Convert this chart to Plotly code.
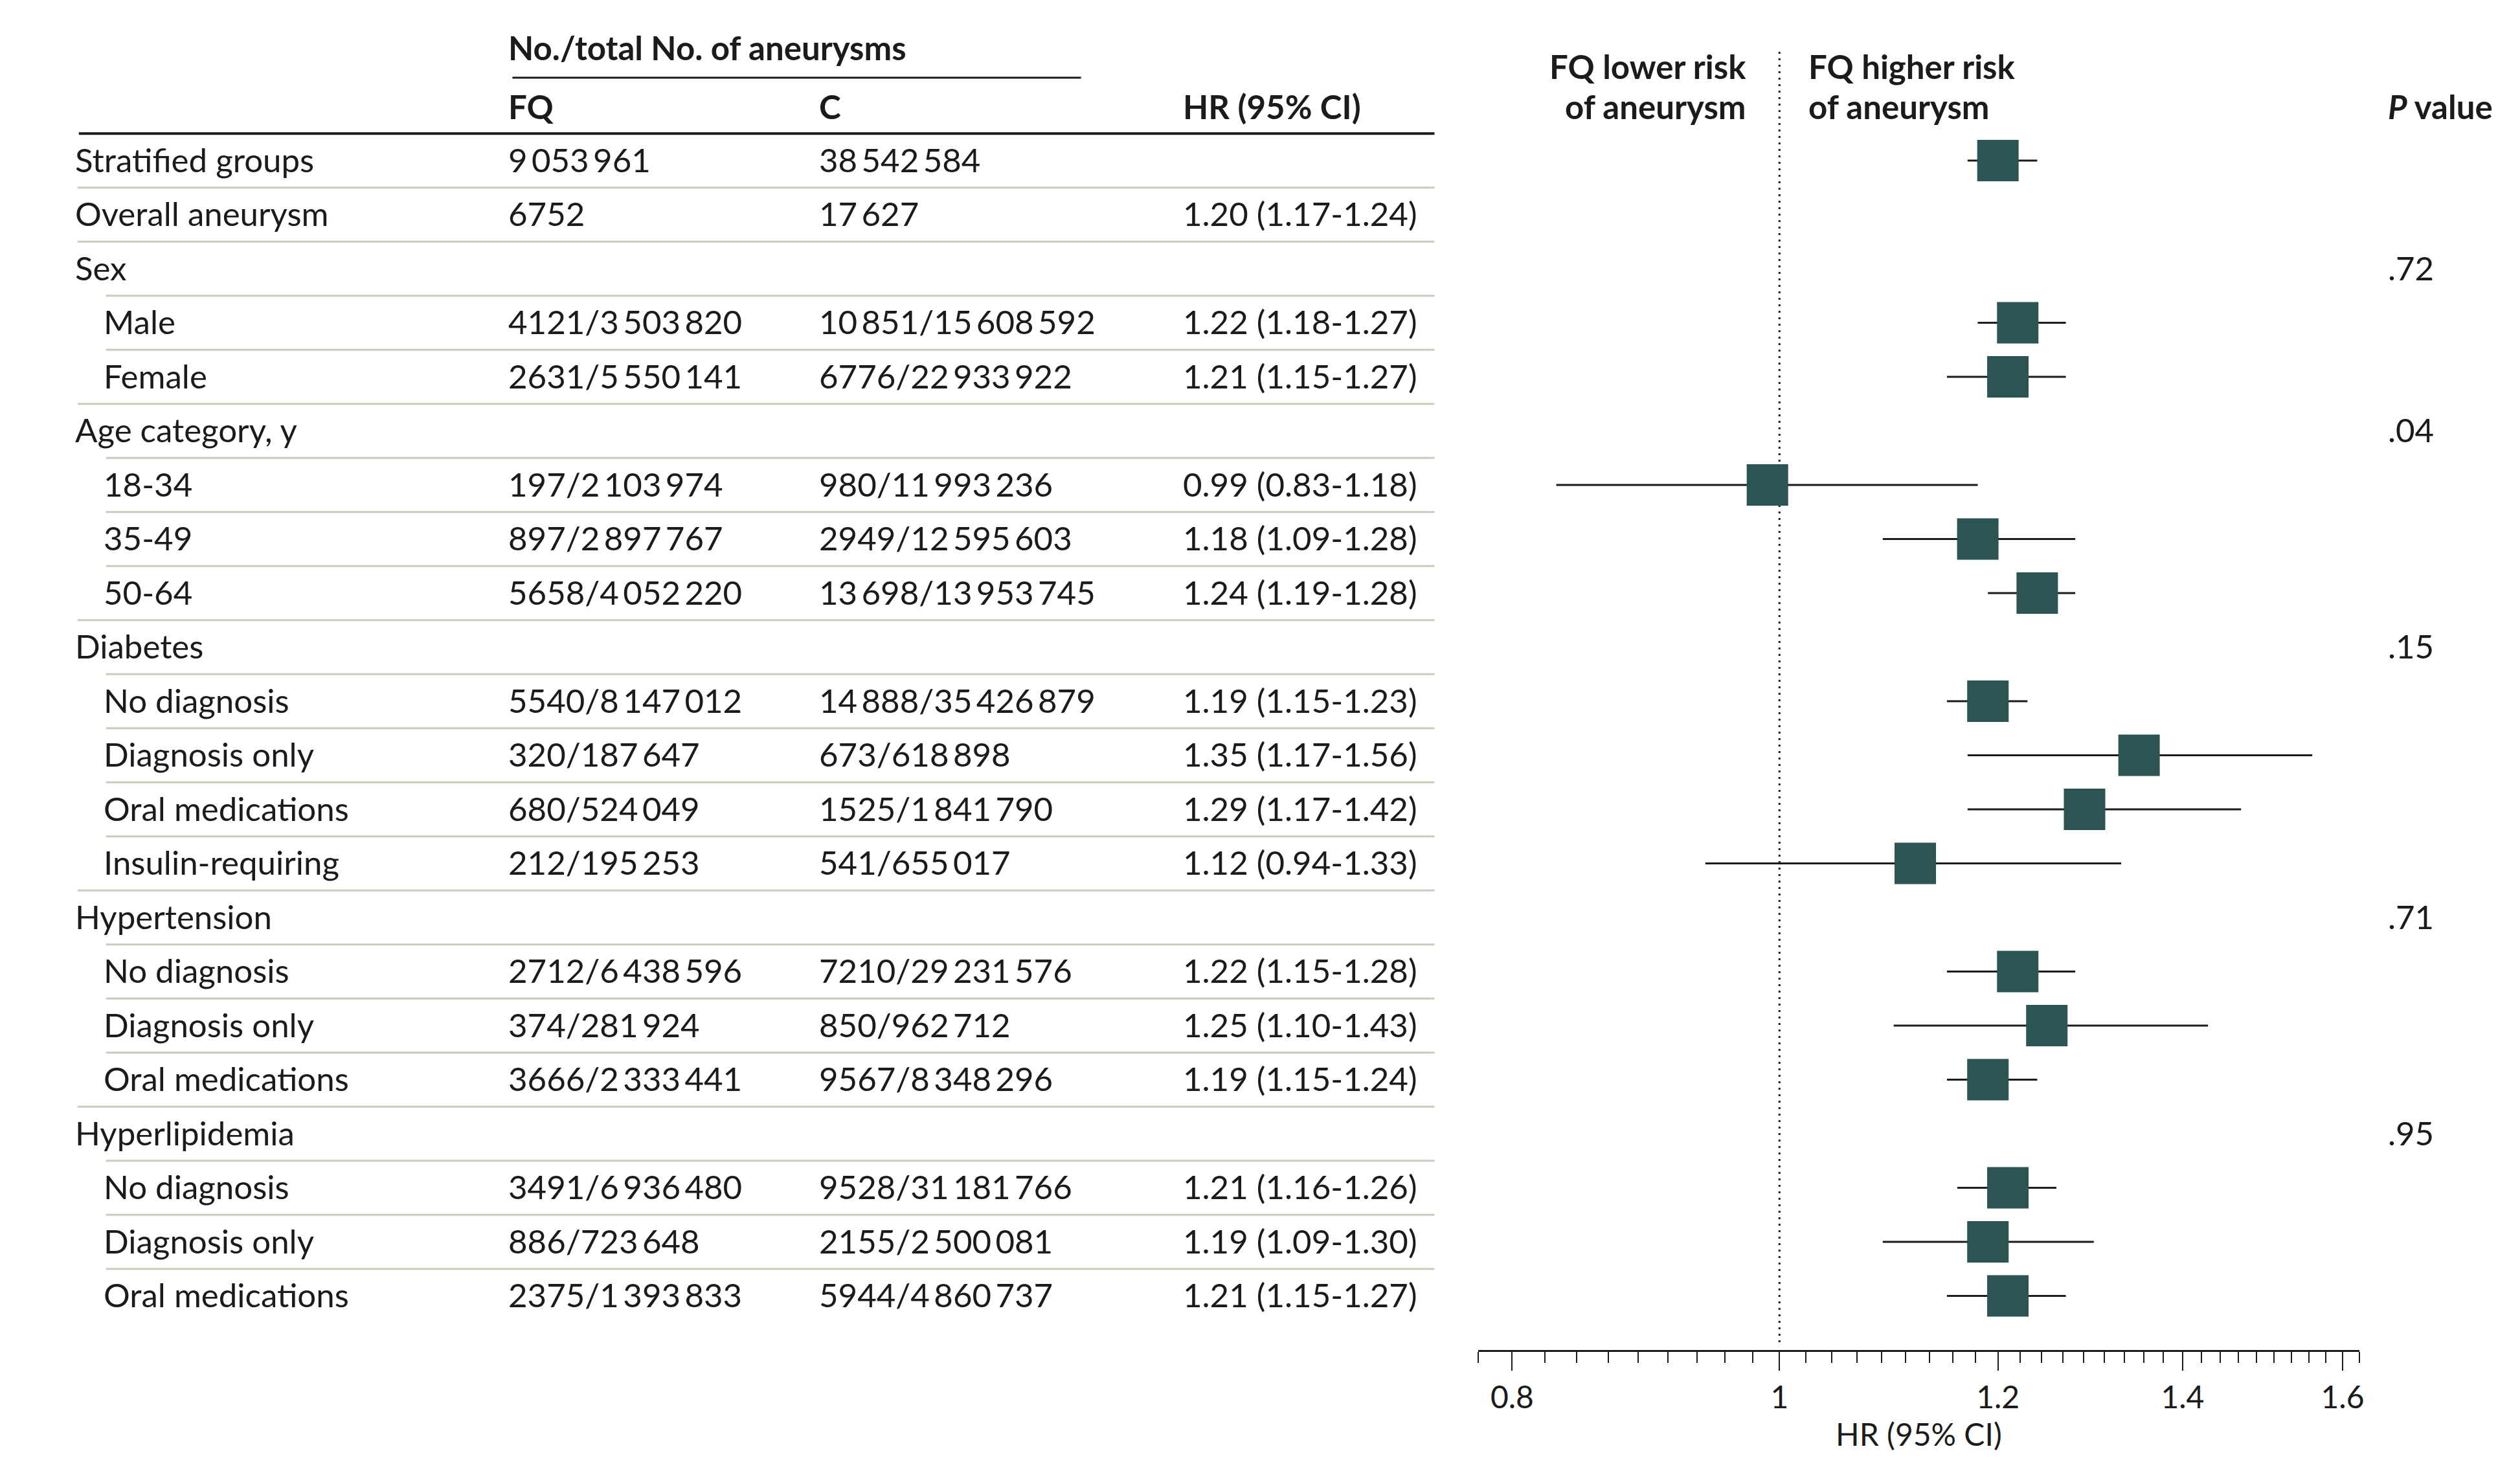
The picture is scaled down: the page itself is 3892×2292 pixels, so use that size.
import math
import plotly.graph_objects as go

# ---------------- data ----------------
labels = ["Stratified groups", "Overall aneurysm", "Sex", "Male", "Female",
          "Age category, y", "18-34", "35-49", "50-64",
          "Diabetes", "No diagnosis", "Diagnosis only", "Oral medications", "Insulin-requiring",
          "Hypertension", "No diagnosis", "Diagnosis only", "Oral medications",
          "Hyperlipidemia", "No diagnosis", "Diagnosis only", "Oral medications"]
level = [0, 0, 0, 1, 1, 0, 1, 1, 1, 0, 1, 1, 1, 1, 0, 1, 1, 1, 0, 1, 1, 1]

fq_n = [9053961, 6752, None, 4121, 2631, None, 197, 897, 5658, None, 5540, 320, 680, 212,
        None, 2712, 374, 3666, None, 3491, 886, 2375]
fq_total = [None, None, None, 3503820, 5550141, None, 2103974, 2897767, 4052220, None,
            8147012, 187647, 524049, 195253, None, 6438596, 281924, 2333441, None,
            6936480, 723648, 1393833]
c_n = [38542584, 17627, None, 10851, 6776, None, 980, 2949, 13698, None, 14888, 673, 1525, 541,
       None, 7210, 850, 9567, None, 9528, 2155, 5944]
c_total = [None, None, None, 15608592, 22933922, None, 11993236, 12595603, 13953745, None,
           35426879, 618898, 1841790, 655017, None, 29231576, 962712, 8348296, None,
           31181766, 2500081, 4860737]

# HR (95% CI) as printed in the table
hr = [None, 1.20, None, 1.22, 1.21, None, 0.99, 1.18, 1.24, None, 1.19, 1.35, 1.29, 1.12,
      None, 1.22, 1.25, 1.19, None, 1.21, 1.19, 1.21]
lo = [None, 1.17, None, 1.18, 1.15, None, 0.83, 1.09, 1.19, None, 1.15, 1.17, 1.17, 0.94,
      None, 1.15, 1.10, 1.15, None, 1.16, 1.09, 1.15]
hi = [None, 1.24, None, 1.27, 1.27, None, 1.18, 1.28, 1.28, None, 1.23, 1.56, 1.42, 1.33,
      None, 1.28, 1.43, 1.24, None, 1.26, 1.30, 1.27]
# upper CI ends as drawn in the forest plot (read from the graphic)
hi_drawn = [None, 1.24, None, 1.27, 1.27, None, 1.18, 1.28, 1.28, None, 1.23, 1.56, 1.47, 1.33,
            None, 1.28, 1.43, 1.24, None, 1.26, 1.30, 1.27]

p_values = {2: ".72", 5: ".04", 9: ".15", 14: ".71", 18: ".95"}

tick_vals = [0.8, 1, 1.2, 1.4, 1.6]
tick_text = ["0.8", "1", "1.2", "1.4", "1.6"]

# ---------------- layout constants (page pixels) ----------------
W, H = 3892, 2292
OFF_Y = 8                    # page offset of the figure (vertical)
TXT_DX = 8                   # annotation text inset compensation
ROW0, ROWH = 248, 83.5
AXIS_PY = 2085
FONT = "Lato"
FS = 51
BLACK = "#1b1b1b"
SEP = "#c8ccbc"
SQ = "#2b5452"


def px(x):
    return x / W


def tx(x):
    return (x - TXT_DX) / W


def py_to_y(py):
    return (py - ROW0) / ROWH


def fmt(n):
    s = str(n)
    if len(s) < 5:
        return s
    groups = []
    while s:
        groups.insert(0, s[-3:])
        s = s[:-3]
    return "\u2009".join(groups)


def cell(n, t):
    if n is None:
        return ""
    if t is None:
        return fmt(n)
    return fmt(n) + "/" + fmt(t)


fig = go.Figure()

# dotted reference line at HR = 1
fig.add_trace(go.Scatter(x=[1, 1], y=[py_to_y(80), py_to_y(2074)], mode="lines",
                         line=dict(color=BLACK, width=3, dash="3px,7px"),
                         hoverinfo="skip", showlegend=False))

# forest markers (overall estimate drawn on the first row, as in the source)
mx, my, ep, em = [], [], [], []
for i, v in enumerate(hr):
    if v is None:
        continue
    mx.append(v)
    my.append(0 if labels[i] == "Overall aneurysm" else i)
    ep.append(hi_drawn[i] - v)
    em.append(v - lo[i])

fig.add_trace(go.Scatter(
    x=mx, y=my, mode="markers",
    marker=dict(symbol="square", size=64, color=SQ, line=dict(width=0)),
    error_x=dict(type="data", symmetric=False, array=ep, arrayminus=em,
                 color=BLACK, thickness=3, width=0),
    showlegend=False, hoverinfo="x"))

ann = []


def text(x, y, s, anchor="left", bold=False, size=FS):
    if bold:
        s = "<b>" + s + "</b>"
    ann.append(dict(x=tx(x), y=y, xref="paper", yref="y", text=s, showarrow=False,
                    xanchor=anchor, yanchor="middle", yshift=2,
                    font=dict(family=FONT, size=size, color=BLACK)))


X_LAB = [114, 158]
X_FQ, X_C, X_HR, X_P = 785, 1266, 1829, 3694

for i, lab in enumerate(labels):
    text(X_LAB[level[i]], i, lab)
    text(X_FQ, i, cell(fq_n[i], fq_total[i]))
    text(X_C, i, cell(c_n[i], c_total[i]))
    if hr[i] is not None:
        text(X_HR, i, f"{hr[i]:.2f} ({lo[i]:.2f}-{hi[i]:.2f})")
    if i in p_values:
        text(X_P, i, p_values[i])

# headers
text(X_FQ, py_to_y(75), "No./total No. of aneurysms", bold=True)
text(X_FQ, py_to_y(166), "FQ", bold=True)
text(X_C, py_to_y(166), "C", bold=True)
text(X_HR, py_to_y(166), "HR (95% CI)", bold=True)
text(2705, py_to_y(104), "FQ lower risk", anchor="right", bold=True)
text(2705, py_to_y(166), "of aneurysm", anchor="right", bold=True)
text(2797, py_to_y(104), "FQ higher risk", bold=True)
text(2797, py_to_y(166), "of aneurysm", bold=True)
text(X_P, py_to_y(166), "<i>P</i> value", bold=True)

shapes = []
# header rules
shapes.append(dict(type="line", xref="paper", yref="y", x0=px(785), x1=px(1665),
                   y0=py_to_y(120), y1=py_to_y(120), line=dict(color=BLACK, width=3)))
shapes.append(dict(type="line", xref="paper", yref="y", x0=px(114), x1=px(2212),
                   y0=-0.5, y1=-0.5, line=dict(color=BLACK, width=4)))
# row separators
for i in range(1, len(labels)):
    shapes.append(dict(type="line", xref="paper", yref="y", x0=px(X_LAB[level[i]] - 2),
                       x1=px(2212), y0=i - 0.5, y1=i - 0.5,
                       line=dict(color=SEP, width=3)))

minor_vals = [0.8 + k * 0.2 / 9 for k in range(-1, 38)]
x_lo, x_hi = 0.8 - 0.2 / 9, 1.6 + 0.2 / 9

fig.update_layout(
    width=W, height=H, margin=dict(l=0, r=0, t=0, b=0),
    paper_bgcolor="white", plot_bgcolor="white",
    annotations=ann, shapes=shapes, showlegend=False,
    xaxis=dict(type="log", range=[math.log10(x_lo), math.log10(x_hi)],
               domain=[px(2280), px(3643)], showgrid=False, zeroline=False,
               showline=True, linecolor=BLACK, linewidth=3,
               ticks="outside", ticklen=29, tickwidth=2, tickcolor=BLACK,
               tickmode="array", tickvals=tick_vals, ticktext=tick_text,
               tickfont=dict(family=FONT, size=48, color=BLACK),
               minor=dict(tickmode="array", tickvals=minor_vals, ticks="outside",
                          ticklen=17, tickwidth=2, tickcolor=BLACK, showgrid=False),
               title=dict(text="HR (95% CI)", standoff=16,
                          font=dict(family=FONT, size=48, color=BLACK))),
    yaxis=dict(range=[py_to_y(AXIS_PY), py_to_y(OFF_Y)], domain=[1 - (AXIS_PY - OFF_Y) / H, 1],
               visible=False, showgrid=False, zeroline=False),
)

fig.write_html("out.html")
